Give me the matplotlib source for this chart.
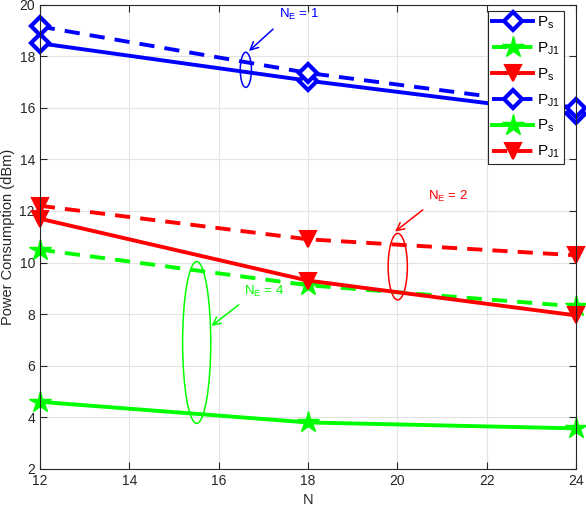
import matplotlib
matplotlib.use("Agg")
import matplotlib.pyplot as plt
from matplotlib.patches import Ellipse

plt.rcParams['font.family'] = ['Liberation Sans', 'DejaVu Sans']
plt.rcParams['mathtext.fontset'] = 'custom'
plt.rcParams['mathtext.rm'] = 'Liberation Sans'
plt.rcParams['mathtext.it'] = 'Liberation Sans'

N = [12, 18, 24]
ps_ne1 = [18.5, 17.05, 15.75]
pj1_ne1 = [19.15, 17.35, 16.0]
ps_ne2 = [11.7, 9.3, 7.95]
pj1_ne2 = [12.2, 10.9, 10.28]
ps_ne4 = [4.6, 3.8, 3.57]
pj1_ne4 = [10.5, 9.12, 8.3]

xticks = [12, 14, 16, 18, 20, 22, 24]
yticks = [2, 4, 6, 8, 10, 12, 14, 16, 18, 20]

fig = plt.figure(figsize=(5.86, 5.08), dpi=100)
ax = fig.add_axes([0.068, 0.077, 0.915, 0.914])

lw = 2.8
dash = (3.9, 2.6)
blue, red, green = (0, 0, 1), (1, 0, 0), (0, 1, 0)
dkw = dict(marker='D', markersize=9, markeredgewidth=3.0, markerfacecolor='white', clip_on=False)
tkw = dict(marker='v', markersize=11.5, markeredgewidth=1.5, clip_on=False)
skw = dict(marker='*', markersize=16, markeredgewidth=1.0, clip_on=False)

ax.plot(N, ps_ne1, '-', color=blue, lw=lw, label=r'$\mathregular{P_s}$', **dkw)
ax.plot(N, pj1_ne4, '--', dashes=dash, color=green, lw=lw, label=r'$\mathregular{P_{J1}}$', **skw)
ax.plot(N, ps_ne2, '-', color=red, lw=lw, label=r'$\mathregular{P_s}$', **tkw)
ax.plot(N, pj1_ne1, '--', dashes=dash, color=blue, lw=lw, label=r'$\mathregular{P_{J1}}$', **dkw)
ax.plot(N, ps_ne4, '-', color=green, lw=lw, label=r'$\mathregular{P_s}$', **skw)
ax.plot(N, pj1_ne2, '--', dashes=dash, color=red, lw=lw, label=r'$\mathregular{P_{J1}}$', **tkw)

ax.set_xlim(12, 24)
ax.set_ylim(2, 20)
ax.set_xticks(xticks)
ax.set_yticks(yticks)
ax.grid(True, color='#e3e3e3', lw=0.8)
ax.set_axisbelow(True)
ax.tick_params(direction='in', top=True, right=True, labelsize=10, colors='#262626', length=5)
for s in ax.spines.values():
    s.set_color('#262626')
    s.set_linewidth(0.8)
ax.set_xlabel('N', fontsize=10.5, color='#262626', labelpad=4)
ax.set_ylabel('Power Consumption (dBm)', fontsize=10.5, color='#262626', labelpad=3)

leg = ax.legend(loc='upper right', fontsize=11, handlelength=2.7, frameon=True,
                fancybox=False, edgecolor='#262626', borderaxespad=0.0,
                bbox_to_anchor=(564 / 586, (508 - 10.7) / 508), bbox_transform=fig.transFigure,
                labelspacing=0.62, handletextpad=0.25, borderpad=0.25, framealpha=1)
leg.get_frame().set_linewidth(0.8)

# annotations
ell_kw = dict(fill=False, lw=1.1)
ax.add_patch(Ellipse((16.61, 17.47), 0.25, 1.36, edgecolor=blue, **ell_kw))
ax.add_patch(Ellipse((20.01, 9.84), 0.43, 2.58, edgecolor=red, **ell_kw))
ax.add_patch(Ellipse((15.51, 6.9), 0.63, 6.27, edgecolor=green, **ell_kw))

akw = dict(arrowstyle='->', lw=1.1, mutation_scale=14, shrinkA=0, shrinkB=0)
ax.annotate('', xy=(16.68, 18.2), xytext=(17.22, 19.05), arrowprops=dict(color=blue, **akw))
ax.annotate('', xy=(19.95, 11.2), xytext=(20.57, 12.04), arrowprops=dict(color=red, **akw))
ax.annotate('', xy=(15.84, 7.54), xytext=(16.45, 8.36), arrowprops=dict(color=green, **akw))

ax.text(17.35, 19.6, r'$\mathregular{N_E}$ = 1', color=blue, fontsize=9.5, va='center')
ax.text(20.69, 12.55, r'$\mathregular{N_E}$ = 2', color=red, fontsize=9.5, va='center')
ax.text(16.57, 8.87, r'$\mathregular{N_E}$ = 4', color=green, fontsize=9.5, va='center')

fig.savefig('out.png', dpi=100)
